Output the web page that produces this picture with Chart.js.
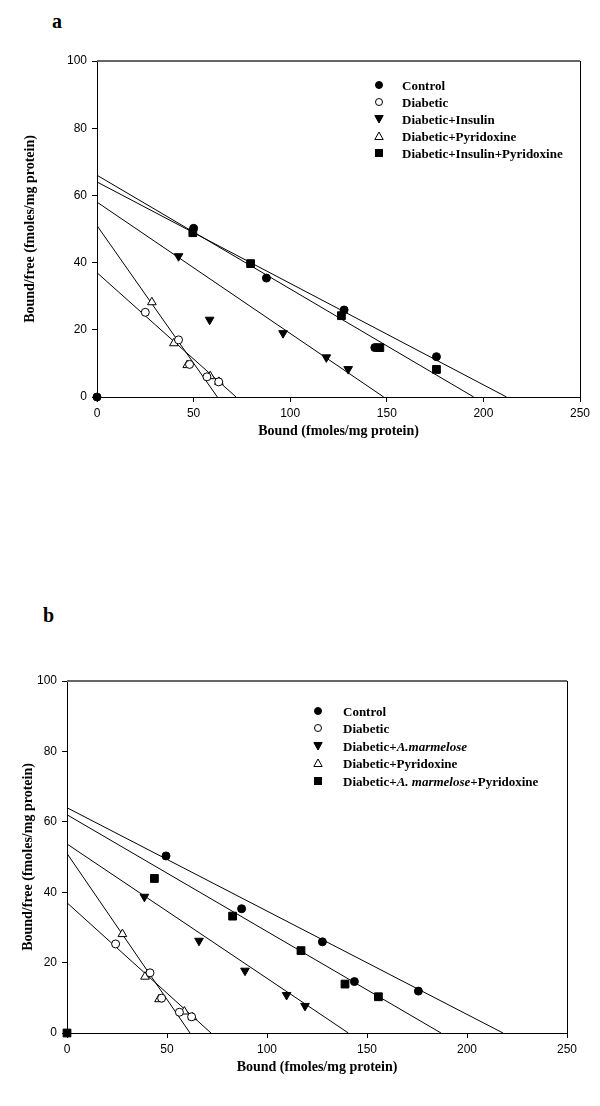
<!DOCTYPE html>
<html>
<head>
<meta charset="utf-8">
<script src="https://cdn.jsdelivr.net/npm/chart.js"></script>
<style>
  html, body { margin: 0; padding: 0; background: #fff; }
  #page { position: relative; width: 600px; height: 1106px; overflow: hidden; }
  canvas { position: absolute; left: 0; }
  .panel-label { position: absolute; font: bold 20px "Liberation Serif", serif; line-height: 20px; color: #000; }
  .legend { position: absolute; font: bold 13px "Liberation Serif", serif; color: #000; }
  .legend .row { position: absolute; left: 0; white-space: nowrap; height: 17px; line-height: 17px; }
  .legend svg { position: absolute; left: 0; top: 3px; }
</style>
</head>
<body>
<div id="page">
  <div class="panel-label" style="left:52px; top:11px;">a</div>
  <canvas id="chart-a" width="600" height="553" style="top:0;"></canvas>
  <div class="legend" id="legend-a"></div>

  <div class="panel-label" style="left:43px; top:605px;">b</div>
  <canvas id="chart-b" width="600" height="553" style="top:553px;"></canvas>
  <div class="legend" id="legend-b"></div>
</div>

<script>
// ---- axis ticks ----
const xTicks = [0, 50, 100, 150, 200, 250];
const yTicks = [0, 20, 40, 60, 80, 100];

// ---- panel a: series (bound, bound/free) ----
const aLabels = ['Control', 'Diabetic', 'Diabetic+Insulin', 'Diabetic+Pyridoxine', 'Diabetic+Insulin+Pyridoxine'];
const aControlX = [0, 50, 87.7, 127.9, 143.8, 175.7];
const aControlY = [0, 50.2, 35.4, 25.9, 14.7, 12.0];
const aDiabeticX = [25.0, 42.2, 47.9, 56.9, 63.0];
const aDiabeticY = [25.2, 17.0, 9.7, 6.0, 4.5];
const aInsulinX = [42.2, 58.3, 96.3, 118.7, 130.0];
const aInsulinY = [41.9, 23.0, 19.0, 11.8, 8.3];
const aPyridoxineX = [28.4, 39.8, 46.7, 58.6, 63.1];
const aPyridoxineY = [28.2, 16.0, 9.5, 6.2, 4.5];
const aComboX = [49.6, 79.5, 126.5, 146.4, 175.7];
const aComboY = [48.9, 39.7, 24.2, 14.7, 8.2];
// regression lines: y-intercept and x-intercept per series
const aFitY0 = [64, 37, 58, 51, 66];
const aFitX0 = [212, 72, 148.4, 62.3, 195];

// ---- panel b ----
const bLabels = ['Control', 'Diabetic', 'Diabetic+<i>A.marmelose</i>', 'Diabetic+Pyridoxine', 'Diabetic+<i>A. marmelose</i>+Pyridoxine'];
const bControlX = [49.5, 87.3, 127.7, 143.7, 175.7];
const bControlY = [50.3, 35.3, 25.9, 14.6, 11.9];
const bDiabeticX = [24.3, 41.5, 47.3, 56.2, 62.3];
const bDiabeticY = [25.3, 17.1, 9.9, 5.9, 4.6];
const bMarmeloseX = [38.7, 66.0, 89.0, 109.8, 119.0];
const bMarmeloseY = [38.7, 26.2, 17.7, 10.8, 7.7];
const bPyridoxineX = [27.7, 39.0, 46.0, 58.7, 62.7];
const bPyridoxineY = [28.1, 16.0, 9.6, 6.1, 4.5];
const bComboX = [0, 43.7, 82.8, 117.0, 139.0, 155.7];
const bComboY = [0, 43.9, 33.2, 23.4, 13.9, 10.3];
const bFitY0 = [64, 37, 53.7, 51, 62];
const bFitX0 = [218, 72, 140.7, 61.5, 187];

// marker look, same order as the labels
const markerStyles = [
    { pointStyle: 'circle', radius: 4, fill: '#000', rotation: 0 },
    { pointStyle: 'circle', radius: 4, fill: '#fff', rotation: 0 },
    { pointStyle: 'triangle', radius: 5, fill: '#000', rotation: 180 },
    { pointStyle: 'triangle', radius: 5, fill: '#fff', rotation: 0 },
    { pointStyle: 'rect', radius: 5.5, fill: '#000', rotation: 0 }
];

function pts(xs, ys) {
    return xs.map((x, i) => ({ x: x, y: ys[i] }));
}

// top + right edges of the plot box
const framePlugin = {
    id: 'frame',
    afterDraw(chart) {
        const { ctx, chartArea: a } = chart;
        ctx.save();
        ctx.strokeStyle = '#666';
        ctx.lineWidth = 2;
        ctx.beginPath();
        ctx.moveTo(a.left, a.top);
        ctx.lineTo(a.right, a.top);
        ctx.stroke();
        ctx.strokeStyle = '#000';
        ctx.lineWidth = 1;
        ctx.beginPath();
        ctx.moveTo(a.right + 0.5, a.top);
        ctx.lineTo(a.right + 0.5, a.bottom);
        ctx.stroke();
        ctx.restore();
    }
};

function drawPanel(canvasId, series, fitY0, fitX0, layout) {
    const datasets = [];

    fitY0.forEach((b, i) => {
        datasets.push({
            data: [{ x: 0, y: b }, { x: fitX0[i], y: 0 }],
            showLine: true,
            borderColor: '#000',
            borderWidth: 1,
            pointRadius: 0,
            order: 2
        });
    });

    series.forEach((s, i) => {
        const m = markerStyles[i];
        datasets.push({
            data: pts(s[0], s[1]),
            pointStyle: m.pointStyle,
            pointRadius: m.radius,
            pointRotation: m.rotation,
            pointBackgroundColor: m.fill,
            pointBorderColor: '#000',
            pointBorderWidth: 1,
            clip: false,
            order: 1
        });
    });

    const tickFont = { family: '"Liberation Sans", Arial, sans-serif', size: 12 };
    const titleFont = { family: '"Liberation Serif", "Times New Roman", serif', size: 14, weight: 'bold' };

    return new Chart(document.getElementById(canvasId), {
        type: 'scatter',
        data: { datasets },
        options: {
            responsive: false,
            animation: false,
            events: [],
            layout: { padding: layout.padding },
            plugins: {
                legend: { display: false },
                tooltip: { enabled: false }
            },
            scales: {
                x: {
                    type: 'linear',
                    min: 0,
                    max: 250,
                    afterBuildTicks: s => { s.ticks = xTicks.map(v => ({ value: v })); },
                    afterFit: s => { s.height = 60; },
                    border: { color: '#000', width: 1 },
                    grid: { drawOnChartArea: false, color: '#000', tickLength: 5 },
                    ticks: { color: '#000', font: tickFont, padding: 4 },
                    title: {
                        display: true,
                        text: 'Bound (fmoles/mg protein)',
                        color: '#000',
                        font: titleFont,
                        padding: { top: 0, bottom: layout.xTitlePad }
                    }
                },
                y: {
                    type: 'linear',
                    min: 0,
                    max: 100,
                    afterBuildTicks: s => { s.ticks = yTicks.map(v => ({ value: v })); },
                    afterFit: s => { s.width = layout.yWidth; },
                    border: { color: '#000', width: 1 },
                    grid: { drawOnChartArea: false, color: '#000', tickLength: 5 },
                    ticks: { color: '#000', font: tickFont, padding: 5 },
                    title: {
                        display: true,
                        text: 'Bound/free (fmoles/mg protein)',
                        color: '#000',
                        font: titleFont,
                        padding: { top: layout.yTitlePad, bottom: 0 }
                    }
                }
            }
        },
        plugins: [framePlugin]
    });
}

function svgMarker(m) {
    const fill = m.fill;
    if (m.pointStyle === 'circle') {
        return `<svg width="10" height="10"><circle cx="5" cy="5" r="3.5" fill="${fill}" stroke="#000" stroke-width="1"/></svg>`;
    }
    if (m.pointStyle === 'rect') {
        return `<svg width="10" height="10"><rect x="1.5" y="1.5" width="7" height="7" fill="${fill}" stroke="#000" stroke-width="1"/></svg>`;
    }
    if (m.rotation === 180) {
        return `<svg width="10" height="10"><polygon points="0.8,1.5 9.2,1.5 5,9" fill="${fill}" stroke="#000" stroke-width="1"/></svg>`;
    }
    return `<svg width="10" height="10"><polygon points="0.8,8.5 9.2,8.5 5,1" fill="${fill}" stroke="#000" stroke-width="1"/></svg>`;
}

function buildLegend(id, labels, pos) {
    const el = document.getElementById(id);
    el.style.left = (pos.markerX - 5) + 'px';
    el.style.top = (pos.firstRowY - 8.5) + 'px';
    el.innerHTML = labels.map((label, i) => `
        <div class="row" style="top:${(i * pos.rowGap).toFixed(1)}px;">
            ${svgMarker(markerStyles[i])}
            <span style="position:absolute; left:${pos.textX - pos.markerX + 5}px;">${label}</span>
        </div>`).join('');
}

drawPanel('chart-a',
    [[aControlX, aControlY], [aDiabeticX, aDiabeticY], [aInsulinX, aInsulinY], [aPyridoxineX, aPyridoxineY], [aComboX, aComboY]],
    aFitY0, aFitX0,
    { padding: { top: 61, left: 0, right: 20, bottom: 96 }, yWidth: 97, yTitlePad: 22, xTitlePad: 17 });

drawPanel('chart-b',
    [[bControlX, bControlY], [bDiabeticX, bDiabeticY], [bMarmeloseX, bMarmeloseY], [bPyridoxineX, bPyridoxineY], [bComboX, bComboY]],
    bFitY0, bFitX0,
    { padding: { top: 128, left: 0, right: 33, bottom: 13 }, yWidth: 67, yTitlePad: 20, xTitlePad: 17 });

buildLegend('legend-a', aLabels, { markerX: 379, textX: 402, firstRowY: 85, rowGap: 17 });
buildLegend('legend-b', bLabels, { markerX: 318, textX: 343, firstRowY: 711, rowGap: 17.5 });
</script>
</body>
</html>
